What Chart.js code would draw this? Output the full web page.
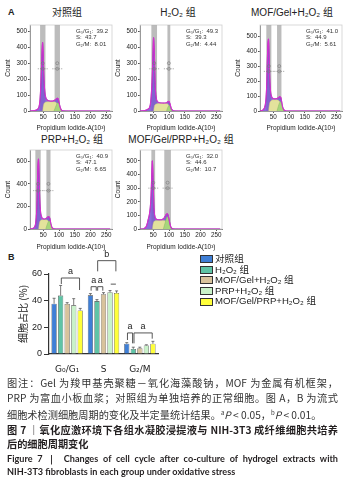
<!DOCTYPE html>
<html><head><meta charset="utf-8">
<script src="https://cdn.jsdelivr.net/npm/chart.js@4/dist/chart.umd.min.js"></script>
<style>
body{margin:0;width:345px;height:484px;background:#fff;position:relative;overflow:hidden;font-family:"Liberation Sans","DejaVu Sans","Noto Sans CJK SC",sans-serif;color:#222}
canvas{position:absolute;display:block}
.ttl{position:absolute;font-size:10px;white-space:nowrap;transform:translateX(-50%);line-height:12px;color:#222}
.lab{position:absolute;font-weight:bold;font-size:9px;font-family:"Liberation Sans",sans-serif}
#legend{position:absolute;left:200px;top:254px;font-size:9.6px;line-height:10.6px}
#legend div{white-space:nowrap;height:10.6px;display:flex;align-items:center}
#legend span.sw{display:inline-block;width:11px;height:6px;border:0.8px solid #333;margin-right:2px}
.cap{position:absolute;left:7px;width:331px;font-size:10.2px;line-height:13px;white-space:nowrap;color:#333;font-family:"Noto Sans CJK SC","Liberation Sans",sans-serif}
.full{text-align:justify;text-align-last:justify;white-space:normal}
.bold{font-weight:bold;color:#231f20}
.en{font-family:"Lato","Liberation Sans",sans-serif;font-size:9.1px}
</style></head>
<body>
<div class="lab" style="left:8px;top:7px">A</div>
<div class="lab" style="left:8px;top:252px">B</div>

<div class="ttl" style="left:67px;top:7px">对照组</div>
<div class="ttl" style="left:178px;top:7px">H₂O₂ 组</div>
<div class="ttl" style="left:292px;top:7px">MOF/Gel+H₂O₂ 组</div>
<div class="ttl" style="left:72px;top:134px">PRP+H₂O₂ 组</div>
<div class="ttl" style="left:181px;top:134px">MOF/Gel/PRP+H₂O₂ 组</div>

<canvas id="h1" width="111" height="112" style="left:4px;top:20px"></canvas>
<canvas id="h2" width="111" height="112" style="left:114px;top:20px"></canvas>
<canvas id="h3" width="111" height="112" style="left:234px;top:20px"></canvas>
<canvas id="h4" width="111" height="106" style="left:4px;top:145px"></canvas>
<canvas id="h5" width="111" height="106" style="left:114px;top:145px"></canvas>

<canvas id="bars" width="183" height="126" style="left:17px;top:248px"></canvas>
<div id="legend"></div>

<div class="cap full" style="top:376px">图注：Gel 为羧甲基壳聚糖－氧化海藻酸钠，MOF 为金属有机框架，</div>
<div class="cap full" style="top:391px">PRP 为富血小板血浆；对照组为单独培养的正常细胞。图 A，B 为流式</div>
<div class="cap" style="top:406px">细胞术检测细胞周期的变化及半定量统计结果。<sup style="font-size:6px">a</sup><i>P</i> &lt; 0.05，<sup style="font-size:6px">b</sup><i>P</i> &lt; 0.01。</div>
<div class="cap full bold" style="top:423px">图 7 ｜氧化应激环境下各组水凝胶浸提液与 NIH-3T3 成纤维细胞共培养</div>
<div class="cap bold" style="top:437px">后的细胞周期变化</div>
<div class="cap full bold en" style="top:452px">Figure 7 ｜ Changes of cell cycle after co-culture of hydrogel extracts with</div>
<div class="cap bold en" style="top:465px">NIH-3T3 fibroblasts in each group under oxidative stress</div>

<script>
// ---------- panel B data ----------
const groups = ['对照组', 'H₂O₂ 组', 'MOF/Gel+H₂O₂ 组', 'PRP+H₂O₂ 组', 'MOF/Gel/PRP+H₂O₂ 组'];
const phases = ['G₀/G₁', 'S', 'G₂/M'];
const meanCtrl = [37.7, 44.0, 7.7];
const errCtrl = [4.1, 1.3, 0.8];
const meanH2O2 = [43.8, 39.7, 3.8];
const errH2O2 = [7.6, 1.1, 1.3];
const meanMofGel = [37.5, 44.8, 4.4];
const errMofGel = [1.0, 1.2, 0.7];
const meanPrp = [36.5, 46.3, 6.4];
const errPrp = [5.0, 1.3, 0.5];
const meanMofGelPrp = [32.7, 45.8, 7.7];
const errMofGelPrp = [1.5, 1.5, 1.8];
const barYTicks = [0, 20, 40, 60];
// significance brackets: phase index, from/to group index, values on y scale
const sigCat   = [0, 1, 1, 1, 1, 2, 2];
const sigFrom  = [1, 1, 0, 1, 3, 0, 1];
const sigTo    = [4, 4, 1, 2, 4, 1, 4];
const sigTop   = [57, 70, 50.5, 50.5, 52.4, 15.8, 15.8];
const sigLegA  = [52.5, 62, 47.5, 47.5, 52.4, 10.5, 8.0];
const sigLegB  = [48, 62, 47.5, 47.5, 52.4, 8.0, 11.5];
const sigLabel = ['a', 'b', 'a', 'a', '', 'a', 'a'];

// ---------- panel A data (histograms) ----------
const xTicksPI = [50, 100, 150, 200, 250];
const statLabels = ['G₀/G₁', 'S', 'G₂/M'];

const ctrlX = [8, 20, 28, 34, 38, 41, 44, 46, 48, 50, 52, 55, 58, 62, 68, 74, 80, 86, 90, 94, 97, 100, 104, 108, 114, 130, 262];
const ctrlY = [0, 2, 6, 15, 40, 110, 250, 370, 430, 360, 220, 120, 85, 70, 64, 62, 63, 68, 74, 80, 78, 55, 22, 6, 1, 0, 0];
const ctrlSX = [48, 52, 58, 88, 95, 100];
const ctrlSY = [0, 45, 56, 56, 40, 0];
const ctrlG2X = [84, 89, 94, 97, 100, 104, 108];
const ctrlG2Y = [0, 25, 48, 52, 42, 15, 0];
const ctrlGates = [[40, 57], [86, 103]];
const ctrlStats = ['39.2', '43.7', '8.01'];
const ctrlYTicks = [0, 100, 200, 300, 400, 500];

const h2o2X = [8, 20, 30, 38, 42, 46, 49, 51, 53, 55, 57, 60, 64, 70, 78, 86, 92, 96, 100, 104, 108, 114, 130, 262];
const h2o2Y = [0, 2, 8, 20, 60, 180, 360, 460, 400, 250, 130, 75, 58, 52, 50, 50, 52, 58, 60, 40, 12, 2, 0, 0];
const h2o2SX = [51, 55, 62, 94, 100, 104];
const h2o2SY = [0, 38, 46, 46, 32, 0];
const h2o2G2X = [92, 96, 100, 103, 106, 110];
const h2o2G2Y = [0, 22, 34, 26, 10, 0];
const h2o2Gates = [[44, 62], [95, 104]];
const h2o2Stats = ['49.3', '39.3', '4.44'];
const h2o2YTicks = [0, 100, 200, 300, 400, 500];

const mofGelX = [8, 16, 22, 26, 29, 31, 33, 35, 37, 39, 42, 46, 52, 58, 64, 68, 71, 74, 77, 80, 85, 92, 110, 262];
const mofGelY = [0, 5, 20, 60, 160, 320, 450, 480, 380, 220, 120, 90, 82, 82, 86, 92, 96, 90, 60, 25, 5, 0, 0, 0];
const mofGelSX = [35, 39, 45, 66, 72, 77];
const mofGelSY = [0, 55, 72, 72, 55, 0];
const mofGelG2X = [62, 66, 70, 73, 76, 80, 84];
const mofGelG2Y = [0, 30, 55, 62, 50, 20, 0];
const mofGelGates = [[28, 44], [62, 76]];
const mofGelStats = ['41.0', '44.9', '5.61'];
const mofGelYTicks = [0, 100, 200, 300, 400, 500];

const prpX = [8, 16, 22, 26, 29, 31, 33, 35, 37, 39, 42, 46, 50, 54, 58, 62, 65, 68, 71, 74, 78, 84, 100, 262];
const prpY = [0, 4, 15, 50, 150, 350, 560, 620, 480, 260, 140, 100, 90, 88, 92, 100, 108, 110, 95, 50, 12, 2, 0, 0];
const prpSX = [35, 39, 44, 62, 68, 73];
const prpSY = [0, 65, 80, 80, 60, 0];
const prpG2X = [58, 62, 66, 69, 72, 76, 80];
const prpG2Y = [0, 35, 65, 72, 58, 20, 0];
const prpGates = [[25, 42], [60, 73]];
const prpStats = ['40.9', '47.1', '6.65'];
const prpYTicks = [0, 200, 400, 600];

const mgpX = [8, 20, 28, 34, 38, 42, 45, 47, 49, 51, 53, 56, 60, 66, 72, 78, 84, 88, 92, 95, 98, 102, 106, 112, 130, 262];
const mgpY = [0, 2, 20, 70, 110, 200, 380, 500, 420, 250, 130, 85, 72, 68, 68, 70, 80, 95, 110, 112, 95, 50, 15, 2, 0, 0];
const mgpSX = [47, 51, 56, 88, 95, 100];
const mgpSY = [0, 50, 60, 60, 45, 0];
const mgpG2X = [82, 87, 92, 95, 98, 102, 107];
const mgpG2Y = [0, 40, 80, 90, 75, 30, 0];
const mgpGates = [[44, 56], [85, 106]];
const mgpStats = ['32.0', '44.6', '10.7'];
const mgpYTicks = [0, 100, 200, 300, 400, 500];

// ---------- drawing ----------
Chart.defaults.font.family = '"Liberation Sans","DejaVu Sans",sans-serif';
Chart.defaults.color = '#333';
Chart.defaults.animation = false;

const pts = (xs, ys) => xs.map((x, i) => ({x: x, y: ys[i]}));

const gatePlugin = {
  id: 'gates',
  beforeDatasetsDraw(chart, args, opts) {
    const {ctx, chartArea: a, scales: {x}} = chart;
    ctx.save();
    ctx.strokeStyle = '#cfcfcf'; ctx.lineWidth = 0.8;
    ctx.strokeRect(a.left, a.top, a.right - a.left, a.bottom - a.top);
    ctx.fillStyle = 'rgba(165,165,165,0.75)';
    opts.bands.forEach(b => {
      const p0 = x.getPixelForValue(b[0]), p1 = x.getPixelForValue(b[1]);
      ctx.fillRect(p0, a.top, p1 - p0, a.bottom - a.top);
    });
    ctx.restore();
  },
  afterDatasetsDraw(chart, args, opts) {
    const {ctx, chartArea: a, scales: {x, y}} = chart;
    ctx.save();
    opts.bands.forEach(b => {
      const cx = (x.getPixelForValue(b[0]) + x.getPixelForValue(b[1])) / 2;
      const y1 = y.getPixelForValue(opts.mark[0]), y2 = y.getPixelForValue(opts.mark[1]);
      ctx.strokeStyle = '#777'; ctx.lineWidth = 0.6;
      ctx.setLineDash([1.2, 1]);
      ctx.beginPath(); ctx.moveTo(cx - 5, y2); ctx.lineTo(cx + 5, y2); ctx.stroke();
      ctx.setLineDash([]);
      [y1, y2].forEach(yy => {
        ctx.beginPath(); ctx.arc(cx, yy, 1.5, 0, Math.PI * 2); ctx.stroke();
      });
    });
    ctx.fillStyle = '#333';
    ctx.font = '6px "Liberation Sans","DejaVu Sans",sans-serif';
    ctx.textBaseline = 'middle';
    const tx = a.left + (a.right - a.left) * 0.56;
    statLabels.forEach((l, i) => {
      ctx.fillText(l + ':  ' + opts.stats[i], tx, a.top + 6 + i * 6.5);
    });
    ctx.restore();
  }
};

function makeHist(id, X, Y, SX, SY, G2X, G2Y, gates, stats, yTicks, yMax, mark, xAxisH) {
  new Chart(document.getElementById(id), {
    type: 'line',
    data: {
      datasets: [
        {data: pts(SX, SY), fill: 'origin', backgroundColor: '#e3e29c', borderColor: '#c9c780', borderWidth: 0.5, pointRadius: 0, tension: 0.3, order: 3},
        {data: pts(G2X, G2Y), fill: 'origin', backgroundColor: '#a7d57c', borderColor: '#86b860', borderWidth: 0.5, pointRadius: 0, tension: 0.3, order: 2},
        {data: pts(X, Y), fill: 'origin', backgroundColor: 'rgba(120,85,210,0.85)', borderColor: '#5a2a8a', borderWidth: 0.6, pointRadius: 0, tension: 0.3, order: 4},
        {data: pts(X, Y), fill: false, borderColor: '#d62fd0', borderWidth: 1.1, pointRadius: 0, tension: 0.3, order: 1}
      ]
    },
    options: {
      responsive: false,
      layout: {padding: {top: 5, right: 3, left: 0, bottom: 0}},
      plugins: {legend: {display: false}, tooltip: {enabled: false}, gates: {bands: gates, stats: stats, mark: mark}},
      scales: {
        x: {
          type: 'linear', min: 8, max: 268,
          afterBuildTicks: s => { s.ticks = xTicksPI.map(v => ({value: v})); },
          afterFit: s => { s.height = xAxisH; },
          ticks: {font: {size: 6.3}, padding: 0, maxRotation: 0, autoSkip: false, color: '#222'},
          grid: {display: true, drawOnChartArea: false, tickLength: 2, color: '#555'},
          border: {color: '#555', width: 0.8},
          title: {display: true, text: 'Propidium Iodide-A(10³)', font: {size: 6.5}, padding: {top: 0, bottom: 0}, color: '#222'}
        },
        y: {
          min: 0, max: yMax,
          afterBuildTicks: s => { s.ticks = yTicks.map(v => ({value: v})); },
          afterFit: s => { s.width = 26; },
          ticks: {font: {size: 6.3}, padding: 1, autoSkip: false, color: '#222'},
          grid: {display: true, drawOnChartArea: false, tickLength: 2, color: '#555'},
          border: {color: '#555', width: 0.8},
          title: {display: true, text: 'Count', font: {size: 6.5}, padding: {top: 0, bottom: 2}, color: '#222'}
        }
      }
    },
    plugins: [gatePlugin]
  });
}

makeHist('h1', ctrlX, ctrlY, ctrlSX, ctrlSY, ctrlG2X, ctrlG2Y, ctrlGates, ctrlStats, ctrlYTicks, 540, [300, 265], 21);
makeHist('h2', h2o2X, h2o2Y, h2o2SX, h2o2SY, h2o2G2X, h2o2G2Y, h2o2Gates, h2o2Stats, h2o2YTicks, 540, [300, 265], 21);
makeHist('h3', mofGelX, mofGelY, mofGelSX, mofGelSY, mofGelG2X, mofGelG2Y, mofGelGates, mofGelStats, mofGelYTicks, 575, [300, 265], 21);
makeHist('h4', prpX, prpY, prpSX, prpSY, prpG2X, prpG2Y, prpGates, prpStats, prpYTicks, 700, [400, 340], 22);
makeHist('h5', mgpX, mgpY, mgpSX, mgpSY, mgpG2X, mgpG2Y, mgpGates, mgpStats, mgpYTicks, 580, [340, 300], 22);

// ---------- bar chart ----------
const barColors = ['#3f7fd6', '#5fc4a6', '#d8c39c', '#c9f2c9', '#ffff3a'];
const means = [meanCtrl, meanH2O2, meanMofGel, meanPrp, meanMofGelPrp];
const errs = [errCtrl, errH2O2, errMofGel, errPrp, errMofGelPrp];

const errPlugin = {
  id: 'errbars',
  afterDatasetsDraw(chart) {
    const {ctx, scales: {y}} = chart;
    ctx.save();
    ctx.strokeStyle = '#555'; ctx.lineWidth = 0.8;
    chart.data.datasets.forEach((ds, i) => {
      chart.getDatasetMeta(i).data.forEach((bar, j) => {
        const yt = y.getPixelForValue(ds.data[j] + ds.errors[j]);
        ctx.beginPath();
        ctx.moveTo(bar.x, bar.y); ctx.lineTo(bar.x, yt);
        ctx.moveTo(bar.x - 1.5, yt); ctx.lineTo(bar.x + 1.5, yt);
        ctx.stroke();
      });
    });
    ctx.strokeStyle = '#444'; ctx.lineWidth = 0.9;
    ctx.fillStyle = '#222';
    ctx.font = '9px "Liberation Sans",sans-serif';
    ctx.textAlign = 'center'; ctx.textBaseline = 'bottom';
    sigCat.forEach((c, k) => {
      const xa = chart.getDatasetMeta(sigFrom[k]).data[c].x + 0.7;
      const xb = chart.getDatasetMeta(sigTo[k]).data[c].x - 0.7;
      const yt = y.getPixelForValue(sigTop[k]);
      ctx.beginPath();
      ctx.moveTo(xa, y.getPixelForValue(sigLegA[k]));
      ctx.lineTo(xa, yt); ctx.lineTo(xb, yt);
      ctx.lineTo(xb, y.getPixelForValue(sigLegB[k]));
      ctx.stroke();
      if (sigLabel[k]) ctx.fillText(sigLabel[k], (xa + xb) / 2, yt - 2);
    });
    ctx.restore();
  }
};

new Chart(document.getElementById('bars'), {
  type: 'bar',
  data: {
    labels: phases,
    datasets: groups.map((g, i) => ({
      label: g, data: means[i], errors: errs[i],
      backgroundColor: barColors[i], borderColor: '#333', borderWidth: 0.6
    }))
  },
  options: {
    responsive: false,
    layout: {padding: {top: 26, right: 42, left: 0, bottom: 0}},
    categoryPercentage: 0.9, barPercentage: 0.8,
    plugins: {legend: {display: false}, tooltip: {enabled: false}},
    scales: {
      x: {
        afterFit: s => { s.height = 20; },
        ticks: {font: {size: 9, family: '"DejaVu Sans","Liberation Sans",sans-serif'}, padding: 2, color: '#222'},
        grid: {display: false},
        border: {color: '#333', width: 1.2}
      },
      y: {
        min: 0, max: 60,
        afterBuildTicks: s => { s.ticks = barYTicks.map(v => ({value: v})); },
        afterFit: s => { s.width = 32; },
        ticks: {font: {size: 9}, padding: 2, color: '#222'},
        grid: {display: true, drawOnChartArea: false, tickLength: 5, color: '#333'},
        border: {color: '#333', width: 1.2},
        title: {display: true, text: '细胞占比 (%)', font: {size: 10, family: '"Noto Sans CJK SC",sans-serif'}, padding: {top: 0, bottom: 3}, color: '#222'}
      }
    }
  },
  plugins: [errPlugin]
});

const lg = document.getElementById('legend');
groups.forEach((g, i) => {
  const d = document.createElement('div');
  d.innerHTML = '<span class="sw" style="background:' + barColors[i] + '"></span>' + g;
  lg.appendChild(d);
});
</script>
</body></html>
